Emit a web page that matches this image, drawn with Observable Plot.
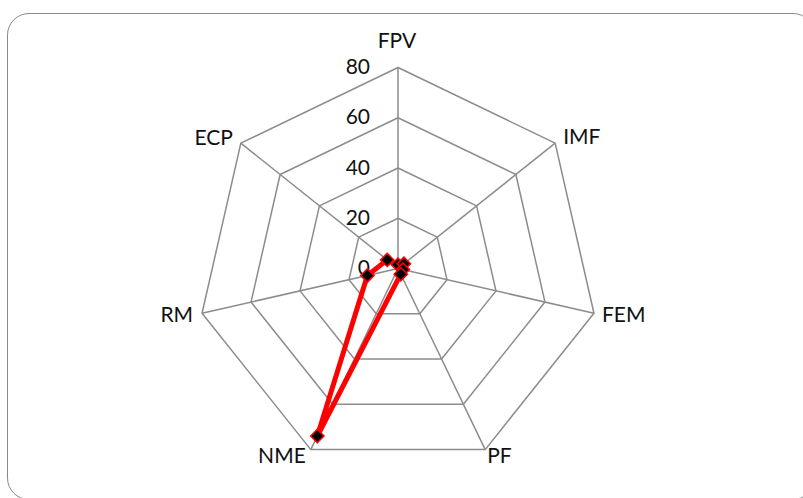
<!DOCTYPE html>
<html>
<head>
<meta charset="utf-8">
<script src="https://cdn.jsdelivr.net/npm/d3@7"></script>
<script src="https://cdn.jsdelivr.net/npm/@observablehq/plot@0.6"></script>
<style>
  html, body { margin: 0; padding: 0; background: #fff; }
  #wrap { position: relative; width: 803px; height: 498px; overflow: hidden; }
  #border { position: absolute; left: 6.5px; top: 13px; width: 808px; height: 487px;
            border: 1.5px solid #8a8a8a; border-radius: 22px; box-sizing: border-box; }
  #chart { position: absolute; left: 0; top: 0; }
</style>
</head>
<body>
<div id="wrap"><div id="border"></div><div id="chart"></div></div>
<script>
// ---- data ----
const categories = ["FPV", "IMF", "FEM", "PF", "NME", "RM", "ECP"];
const values = [1.5, 3, 2, 2.5, 74, 12.5, 5.5];
const ringTicks = [20, 40, 60, 80];
const tickLabels = [0, 20, 40, 60, 80];
const maxValue = 80;

// ---- layout / style (not data) ----
const W = 803, H = 498, cx = 397.5, cy = 268, pxPerUnit = 201 / 80;
const labelStyle = {
  FPV: {anchor: "middle", dx: -1, dy: -26},
  IMF: {anchor: "start", dx: 8, dy: -6},
  FEM: {anchor: "start", dx: 8, dy: 2},
  PF:  {anchor: "start", dx: 2, dy: 7},
  NME: {anchor: "end", dx: -5, dy: 7},
  RM:  {anchor: "end", dx: -9, dy: 2},
  ECP: {anchor: "end", dx: -8, dy: -5}
};

const n = categories.length;
const ang = i => (2 * Math.PI * i) / n;
const px = (v, i) => v * Math.sin(ang(i));
const py = (v, i) => v * Math.cos(ang(i));

const rings = ringTicks.flatMap(t =>
  d3.range(n + 1).map(k => ({t, x: px(t, k % n), y: py(t, k % n)})));
const spokes = categories.map((c, i) => ({c, x2: px(maxValue, i), y2: py(maxValue, i)}));
const series = d3.range(n + 1).map(k => ({c: categories[k % n], v: values[k % n],
  x: px(values[k % n], k % n), y: py(values[k % n], k % n)}));
const labels = categories.map((c, i) => ({c, x: px(maxValue, i), y: py(maxValue, i)}));

const font = "Lato, 'Open Sans', sans-serif";
const fs = 21;
// one mark per category label so each can carry its own offset
const catMarks = labels.map(d => Plot.text([d], {
  x: "x", y: "y", text: "c", textAnchor: labelStyle[d.c].anchor,
  dx: labelStyle[d.c].dx, dy: labelStyle[d.c].dy, fontSize: fs, fill: "#111"
}));

const chart = Plot.plot({
  width: W, height: H,
  margin: 0,
  style: {fontFamily: font, background: "transparent"},
  x: {domain: [-cx / pxPerUnit, (W - cx) / pxPerUnit], axis: null},
  y: {domain: [(cy - H) / pxPerUnit, cy / pxPerUnit], axis: null},
  marks: [
    Plot.line(rings, {x: "x", y: "y", z: "t", stroke: "#8c8c8c", strokeWidth: 1.5}),
    Plot.link(spokes, {x1: 0, y1: 0, x2: "x2", y2: "y2", stroke: "#8c8c8c", strokeWidth: 1.5}),
    Plot.text(tickLabels, {x: 0, y: d => d, text: d => String(d), textAnchor: "end",
      dx: -28, fontSize: fs, fill: "#111"}),
    ...catMarks,
    Plot.line(series, {x: "x", y: "y", stroke: "#ff0000", strokeWidth: 5, strokeLinejoin: "miter"}),
    Plot.dot(series.slice(0, n), {x: "x", y: "y", symbol: "diamond2", r: 6,
      fill: "#000", stroke: "#ff0000", strokeWidth: 1.5})
  ]
});
document.getElementById("chart").appendChild(chart);
</script>
</body>
</html>
